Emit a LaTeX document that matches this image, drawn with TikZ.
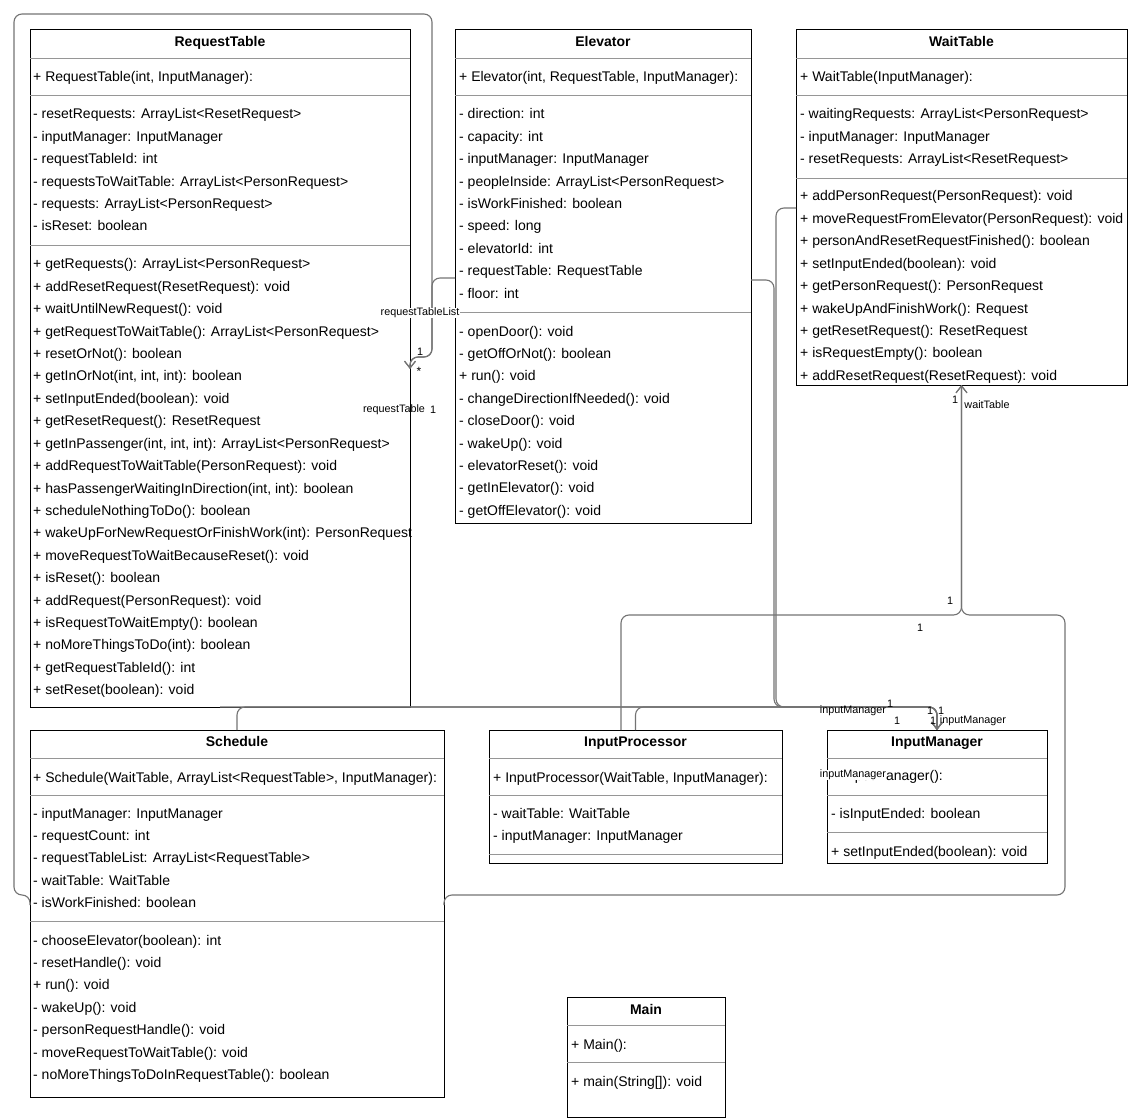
\documentclass[tikz,border=0pt]{standalone}
\usepackage{fontspec}
\setmainfont{Liberation Sans}
\usetikzlibrary{arrows.meta,calc}
\definecolor{conngray}{RGB}{115,115,115}
\definecolor{sepgray}{RGB}{150,150,150}
\begin{document}
\begin{tikzpicture}[x=1pt,y=-1pt,
  classbox/.style={draw=black, line width=1pt, fill=white, anchor=north west, inner sep=0pt, outer sep=0pt},
  hdr/.style={font=\bfseries\fontsize{14}{16}\selectfont, anchor=base, inner sep=0pt},
  itm/.style={font=\fontsize{14}{16}\selectfont, anchor=base west, inner sep=0pt},
  sepline/.style={draw=sepgray, line width=0.9pt},
  conn/.style={draw=conngray, line width=1.1pt, rounded corners=8pt},
  openarr/.style={-{Straight Barb[length=7pt,width=11pt,line width=1.1pt]}},
  lbl/.style={font=\fontsize{10.8}{12}\selectfont, inner sep=0.3pt},
  lblw/.style={lbl, fill=white}
]
\useasboundingbox (0,0) rectangle (1128,1118);

% ---------------- RequestTable ----------------
\node[classbox, minimum width=380pt, minimum height=677pt] (rt) at (30,30) {};
\node[hdr] (rt-t) at (220,47) {RequestTable};
\draw[sepline] (rt.west |- 0,58) -- (rt.east |- 0,58);
\node[itm] (rt-c) at (33,82) {+ RequestTable(int, InputManager):};
\draw[sepline] (rt.west |- 0,95.5) -- (rt.east |- 0,95.5);
\foreach \t [count=\i from 0] in {%
  {- resetRequests: ArrayList<ResetRequest>},
  {- inputManager: InputManager},
  {- requestTableId: int},
  {- requestsToWaitTable: ArrayList<PersonRequest>},
  {- requests: ArrayList<PersonRequest>},
  {- isReset: boolean}}
  \node[itm] (rt-a\i) at (33,{119+22.4*\i}) {\t};
\draw[sepline] (rt.west |- 0,245) -- (rt.east |- 0,245);
\foreach \t [count=\i from 0] in {%
  {+ getRequests(): ArrayList<PersonRequest>},
  {+ addResetRequest(ResetRequest): void},
  {+ waitUntilNewRequest(): void},
  {+ getRequestToWaitTable(): ArrayList<PersonRequest>},
  {+ resetOrNot(): boolean},
  {+ getInOrNot(int, int, int): boolean},
  {+ setInputEnded(boolean): void},
  {+ getResetRequest(): ResetRequest},
  {+ getInPassenger(int, int, int): ArrayList<PersonRequest>},
  {+ addRequestToWaitTable(PersonRequest): void},
  {+ hasPassengerWaitingInDirection(int, int): boolean},
  {+ scheduleNothingToDo(): boolean},
  {+ wakeUpForNewRequestOrFinishWork(int): PersonRequest},
  {+ moveRequestToWaitBecauseReset(): void},
  {+ isReset(): boolean},
  {+ addRequest(PersonRequest): void},
  {+ isRequestToWaitEmpty(): boolean},
  {+ noMoreThingsToDo(int): boolean},
  {+ getRequestTableId(): int},
  {+ setReset(boolean): void}}
  \node[itm] (rt-m\i) at (33,{269+22.4*\i}) {\t};

% ---------------- Elevator ----------------
\node[classbox, minimum width=296pt, minimum height=493pt] (el) at (455,30) {};
\node[hdr] (el-t) at (603,47) {Elevator};
\draw[sepline] (el.west |- 0,58) -- (el.east |- 0,58);
\node[itm] (el-c) at (459,82) {+ Elevator(int, RequestTable, InputManager):};
\draw[sepline] (el.west |- 0,95.5) -- (el.east |- 0,95.5);
\foreach \t [count=\i from 0] in {%
  {- direction: int},
  {- capacity: int},
  {- inputManager: InputManager},
  {- peopleInside: ArrayList<PersonRequest>},
  {- isWorkFinished: boolean},
  {- speed: long},
  {- elevatorId: int},
  {- requestTable: RequestTable},
  {- floor: int}}
  \node[itm] (el-a\i) at (459,{119+22.4*\i}) {\t};
\draw[sepline] (el.west |- 0,312) -- (el.east |- 0,312);
\foreach \t [count=\i from 0] in {%
  {- openDoor(): void},
  {- getOffOrNot(): boolean},
  {+ run(): void},
  {- changeDirectionIfNeeded(): void},
  {- closeDoor(): void},
  {- wakeUp(): void},
  {- elevatorReset(): void},
  {- getInElevator(): void},
  {- getOffElevator(): void}}
  \node[itm] (el-m\i) at (459,{336+22.4*\i}) {\t};

% ---------------- WaitTable ----------------
\node[classbox, minimum width=331pt, minimum height=355pt] (wt) at (796,30) {};
\node[hdr] (wt-t) at (961.5,47) {WaitTable};
\draw[sepline] (wt.west |- 0,58) -- (wt.east |- 0,58);
\node[itm] (wt-c) at (800,82) {+ WaitTable(InputManager):};
\draw[sepline] (wt.west |- 0,95.5) -- (wt.east |- 0,95.5);
\foreach \t [count=\i from 0] in {%
  {- waitingRequests: ArrayList<PersonRequest>},
  {- inputManager: InputManager},
  {- resetRequests: ArrayList<ResetRequest>}}
  \node[itm] (wt-a\i) at (800,{119+22.4*\i}) {\t};
\draw[sepline] (wt.west |- 0,178) -- (wt.east |- 0,178);
\foreach \t [count=\i from 0] in {%
  {+ addPersonRequest(PersonRequest): void},
  {+ moveRequestFromElevator(PersonRequest): void},
  {+ personAndResetRequestFinished(): boolean},
  {+ setInputEnded(boolean): void},
  {+ getPersonRequest(): PersonRequest},
  {+ wakeUpAndFinishWork(): Request},
  {+ getResetRequest(): ResetRequest},
  {+ isRequestEmpty(): boolean},
  {+ addResetRequest(ResetRequest): void}}
  \node[itm] (wt-m\i) at (800,{201+22.4*\i}) {\t};

% ---------------- Schedule ----------------
\node[classbox, minimum width=414pt, minimum height=367pt] (sch) at (30,730) {};
\node[hdr] (sch-t) at (237,746) {Schedule};
\draw[sepline] (sch.west |- 0,758) -- (sch.east |- 0,758);
\node[itm] (sch-c) at (33,782) {+ Schedule(WaitTable, ArrayList<RequestTable>, InputManager):};
\draw[sepline] (sch.west |- 0,795.5) -- (sch.east |- 0,795.5);
\foreach \t [count=\i from 0] in {%
  {- inputManager: InputManager},
  {- requestCount: int},
  {- requestTableList: ArrayList<RequestTable>},
  {- waitTable: WaitTable},
  {- isWorkFinished: boolean}}
  \node[itm] (sch-a\i) at (33,{818+22.4*\i}) {\t};
\draw[sepline] (sch.west |- 0,921) -- (sch.east |- 0,921);
\foreach \t [count=\i from 0] in {%
  {- chooseElevator(boolean): int},
  {- resetHandle(): void},
  {+ run(): void},
  {- wakeUp(): void},
  {- personRequestHandle(): void},
  {- moveRequestToWaitTable(): void},
  {- noMoreThingsToDoInRequestTable(): boolean}}
  \node[itm] (sch-m\i) at (33,{945+22.4*\i}) {\t};

% ---------------- InputProcessor ----------------
\node[classbox, minimum width=293pt, minimum height=133pt] (ip) at (489,730) {};
\node[hdr] (ip-t) at (635.5,746) {InputProcessor};
\draw[sepline] (ip.west |- 0,758) -- (ip.east |- 0,758);
\node[itm] (ip-c) at (493,782) {+ InputProcessor(WaitTable, InputManager):};
\draw[sepline] (ip.west |- 0,795.5) -- (ip.east |- 0,795.5);
\node[itm] (ip-a0) at (493,818) {- waitTable: WaitTable};
\node[itm] (ip-a1) at (493,840.5) {- inputManager: InputManager};
\draw[sepline] (ip.west |- 0,854) -- (ip.east |- 0,854);

% ---------------- InputManager ----------------
\node[classbox, minimum width=220pt, minimum height=133pt] (im) at (827,730) {};
\node[hdr] (im-t) at (937,746) {InputManager};
\draw[sepline] (im.west |- 0,758) -- (im.east |- 0,758);
\node[itm] (im-c) at (831,780) {+ InputManager():};
\draw[sepline] (im.west |- 0,795.5) -- (im.east |- 0,795.5);
\node[itm] (im-a0) at (831,818) {- isInputEnded: boolean};
\draw[sepline] (im.west |- 0,832) -- (im.east |- 0,832);
\node[itm] (im-m0) at (831,856) {+ setInputEnded(boolean): void};

% ---------------- Main ----------------
\node[classbox, minimum width=158pt, minimum height=120pt] (mn) at (567,997) {};
\node[hdr] (mn-t) at (646,1014) {Main};
\draw[sepline] (mn.west |- 0,1025) -- (mn.east |- 0,1025);
\node[itm] (mn-c) at (571,1049) {+ Main():};
\draw[sepline] (mn.west |- 0,1062) -- (mn.east |- 0,1062);
\node[itm] (mn-m0) at (571,1086) {+ main(String[]): void};

% ---------------- Connectors ----------------
% Schedule -> RequestTable (requestTableList)
\draw[conn, openarr] (sch.west |- 0,905) -- (30,895) -- (14,895) -- (14,14) -- (432,14) -- (432,357) -- (410,357) -- (rt.east |- 0,369);
% Elevator -> RequestTable (requestTable)
\draw[conn, openarr] (el.west |- 0,278) -- (432,278) -- (432,357) -- (410,357) -- (rt.east |- 0,369);
% Elevator -> InputManager
\draw[conn, openarr] (el.east |- 0,280) -- (774,280) -- (774,707) -- (937,707) -- (im.north);
% WaitTable -> InputManager
\draw[conn, openarr] (wt.west |- 0,208) -- (776,208) -- (776,707) -- (937,707) -- (im.north);
% RequestTable -> InputManager
\draw[conn, openarr] (rt.south) -- (937,707) -- (im.north);
% Schedule -> InputManager
\draw[conn, openarr] (sch.north) -- (237,707) -- (937,707) -- (im.north);
% InputProcessor -> InputManager
\draw[conn, openarr] (ip.north) -- (635.5,707) -- (937,707) -- (im.north);
% InputProcessor -> WaitTable
\draw[conn, openarr] (ip.north -| 621,0) -- (621,615) -- (961.5,615) -- (wt.south);
% Schedule -> WaitTable
\draw[conn, openarr] (sch.east |- 0,905) -- (444,895) -- (1065,895) -- (1065,615) -- (961.5,615) -- (wt.south);

% ---------------- Labels ----------------
\node[lblw] (lb1) at (420,313) {requestTableList};
\node[lbl] (lb2) at (420,352) {1};
\node[lbl, font=\fontsize{12}{12}\selectfont] (lb3) at (419,371) {*};
\node[lbl] (lb4) at (394,410) {requestTable};
\node[lbl] (lb5) at (433,410) {1};
\node[lbl] (lb6) at (853,711) {inputManager};
\node[lbl] (lb7) at (890,704) {1};
\node[lbl] (lb8) at (897,721) {1};
\node[lbl] (lb9) at (930,711) {1};
\node[lbl] (lb10) at (941,711) {1};
\node[lbl] (lb11) at (933,721) {1};
\node[lbl] (lb12) at (973,721) {inputManager};
\node[lblw] (lb13) at (853,775) {inputManager};
\node[lbl] (lb14) at (950,601) {1};
\node[lbl] (lb15) at (920,628) {1};
\node[lbl] (lb16) at (955,400) {1};
\node[lbl] (lb17) at (987,405) {waitTable};
\end{tikzpicture}
\end{document}
